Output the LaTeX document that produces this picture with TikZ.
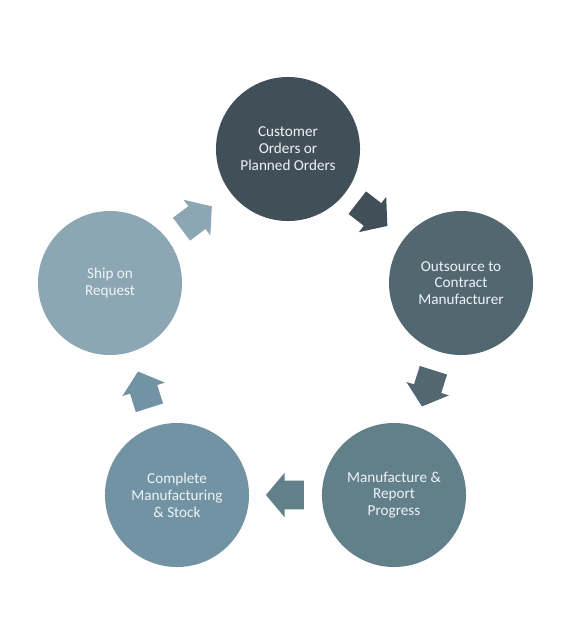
\documentclass[tikz,border=0pt]{standalone}
\usepackage{fontspec}
\setmainfont{Carlito}
\usetikzlibrary{shapes.arrows,calc}

\definecolor{stageA}{HTML}{414F58}
\definecolor{stageB}{HTML}{52676F}
\definecolor{stageC}{HTML}{618089}
\definecolor{stageD}{HTML}{7193A3}
\definecolor{stageE}{HTML}{8DA6B4}
\definecolor{stagetext}{HTML}{EEF4F7}

\begin{document}
\begin{tikzpicture}[x=0.025cm,y=-0.025cm,
        stagecircle/.style={circle,minimum size=3.6cm,inner sep=0pt,align=center,
                            text=stagetext,font=\fontsize{10.8}{12}\selectfont},
        flowarrow/.style={single arrow,minimum height=0.95cm,inner xsep=0pt,
                          inner ysep=0.35cm,single arrow head extend=0.2cm,
                          single arrow tip angle=100}]
        \useasboundingbox (0,0) rectangle (576,624);

        \node[stagecircle,fill=stageA] (orders) at (288,149) {Customer\\Orders or\\Planned Orders};
        \node[stagecircle,fill=stageB] (outsource) at (461,283) {Outsource to\\Contract\\Manufacturer};
        \node[stagecircle,fill=stageC] (manufacture) at (394,495) {Manufacture \&\\Report\\Progress};
        \node[stagecircle,fill=stageD] (complete) at (177,495) {Complete\\Manufacturing\\\& Stock};
        \node[stagecircle,fill=stageE] (ship) at (110,283) {Ship on\\Request};

        \path let \p1=($(outsource)-(orders)$), \n1={atan2(\y1,\x1)} in
              node[flowarrow,fill=stageA,rotate=\n1] (toout) at ($(orders)!0.46!(outsource)$) {};
        \path let \p1=($(manufacture)-(outsource)$), \n1={atan2(\y1,\x1)} in
              node[flowarrow,fill=stageB,rotate=\n1] (toman) at ($(outsource)!0.47!(manufacture)$) {};
        \path let \p1=($(complete)-(manufacture)$), \n1={atan2(\y1,\x1)} in
              node[flowarrow,fill=stageC,rotate=\n1] (tocomp) at ($(manufacture)!0.475!(complete)$) {};
        \path let \p1=($(ship)-(complete)$), \n1={atan2(\y1,\x1)} in
              node[flowarrow,fill=stageD,rotate=\n1] (toship) at ($(complete)!0.47!(ship)$) {};
        \path let \p1=($(orders)-(ship)$), \n1={atan2(\y1,\x1)} in
              node[flowarrow,fill=stageE,rotate=\n1] (toord) at ($(ship)!0.46!(orders)$) {};
    \end{tikzpicture}
\end{document}
